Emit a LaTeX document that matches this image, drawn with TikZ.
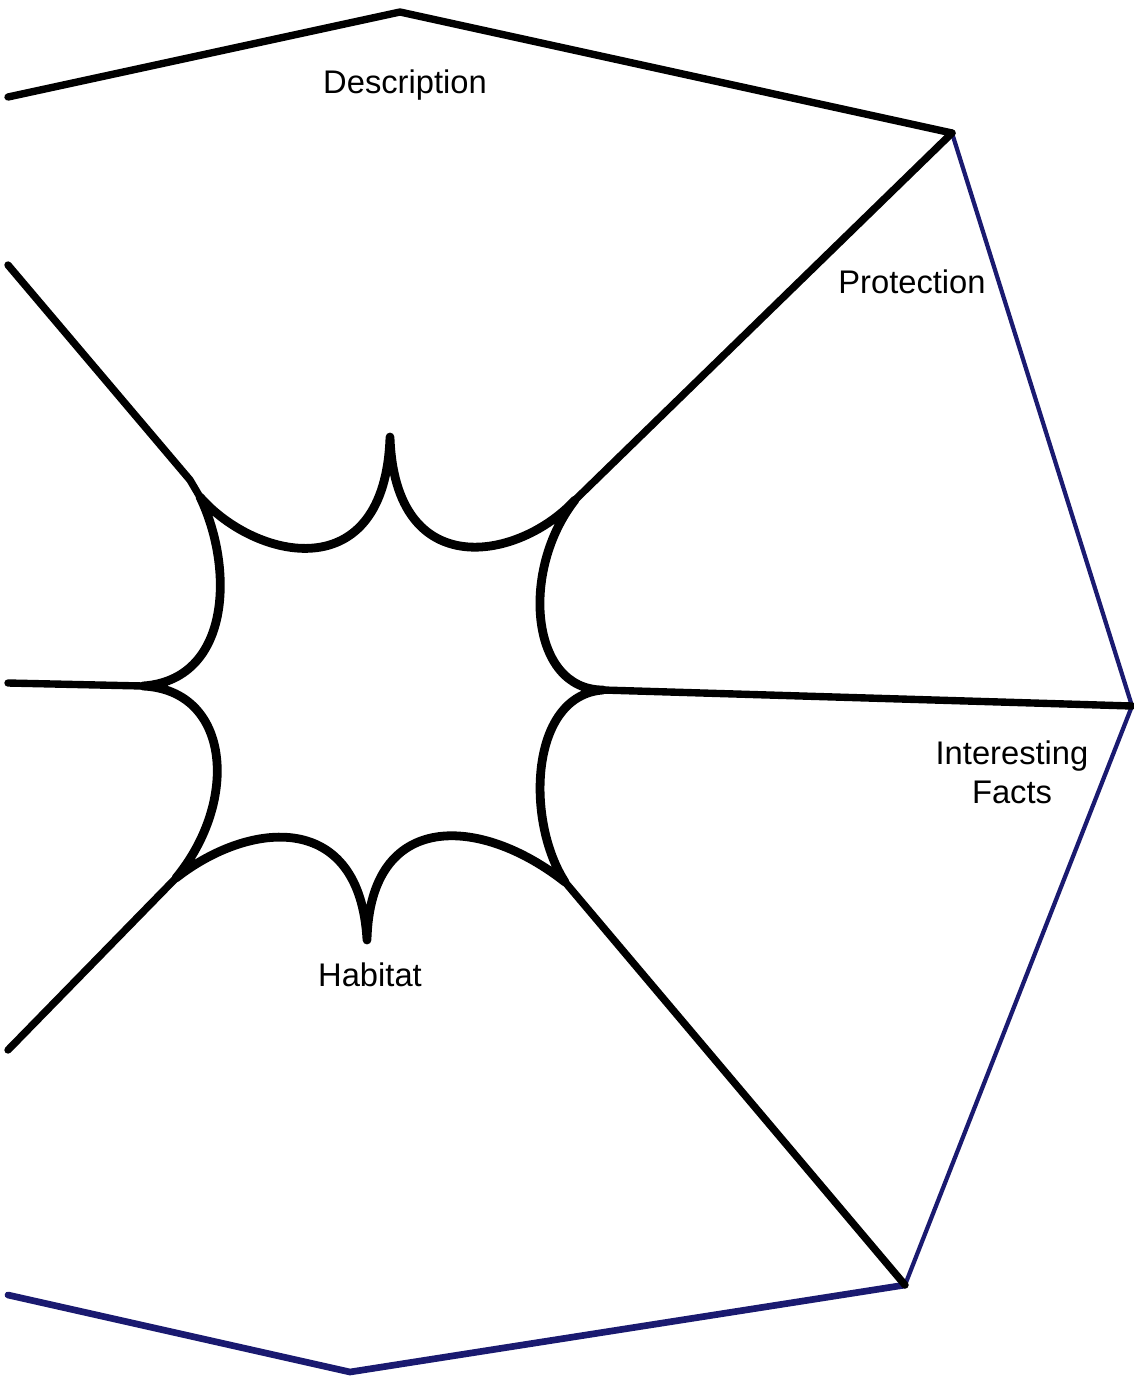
\documentclass[tikz,border=0pt]{standalone}
\usepackage{fontspec}
\setmainfont{Liberation Sans}
\begin{document}
\begin{tikzpicture}[x=0.01cm,y=-0.01cm,
  blk/.style={draw=black,line width=2.1pt,line cap=round,line join=round},
  starline/.style={draw=black,line width=2.5pt,line cap=round,line join=round},
  navythin/.style={draw=navy,line width=1.2pt,line cap=round,line join=round},
  navythick/.style={draw=navy,line width=1.9pt,line cap=round,line join=round},
  lbl/.style={font=\fontsize{9.3}{11}\selectfont,align=center,inner sep=1pt}]
\definecolor{navy}{HTML}{1A1A70}
\useasboundingbox (0,0) rectangle (1134,1381);
\fill[white] (0,0) rectangle (1134,1381);
% outer frame coordinates
\coordinate (tl) at (8,97);
\coordinate (top) at (400,12);
\coordinate (tr) at (952,133);
\coordinate (r) at (1132,706);
\coordinate (br) at (905,1285);
\coordinate (bot) at (350,1372);
\coordinate (bl) at (8,1295);
% spoke free ends
\coordinate (eul) at (8,265);
\coordinate (el) at (8,683);
\coordinate (ell) at (8,1050);
% star tips
\coordinate (sUL) at (200,497);
\coordinate (sT) at (390,437);
\coordinate (sUR) at (575,500);
\coordinate (sR) at (603,690);
\coordinate (sLR) at (565,882);
\coordinate (sB) at (367,940);
\coordinate (sLL) at (176,878);
\coordinate (sL) at (143,686);
% outer frame
\draw[blk] (tl) -- (top) -- (tr);
\draw[navythin] (tr) -- (r) -- (br);
\draw[navythick] (br) -- (bot) -- (bl);
% spokes
\draw[blk] (eul) -- (190,480) -- (sUL);
\draw[blk] (tr) -- (sUR);
\draw[blk] (r) -- (sR);
\draw[blk] (el) -- (sL);
\draw[blk] (ell) -- (sLL);
\draw[blk] (br) -- (sLR);
% star
\draw[starline] (sUL) .. controls (255,560) and (385,590) .. (sT)
  .. controls (395,585) and (520,560) .. (sUR)
  .. controls (520,570) and (530,690) .. (sR)
  .. controls (530,695) and (525,820) .. (sLR)
  .. controls (480,815) and (370,810) .. (sB)
  .. controls (360,810) and (250,820) .. (sLL)
  .. controls (240,800) and (230,690) .. (sL)
  .. controls (230,680) and (235,570) .. (sUL) -- cycle;
% labels
\node[lbl] (ldesc) at (405,85) {Description};
\node[lbl] (lprot) at (912,282) {Protection};
\node[lbl] (lfacts) at (1012,772) {Interesting\\Facts};
\node[lbl] (lhab) at (370,975) {Habitat};
\end{tikzpicture}
\end{document}
